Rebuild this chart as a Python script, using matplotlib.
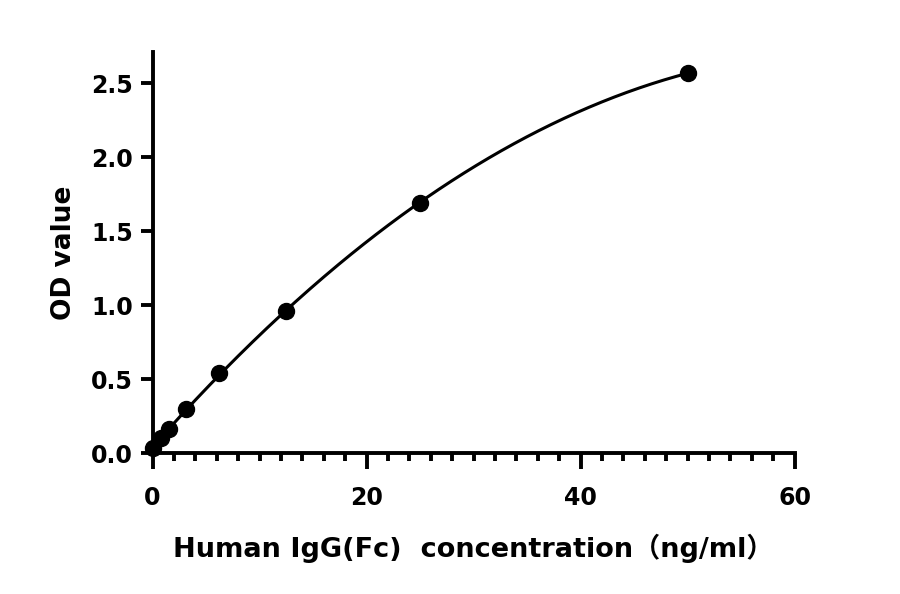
import numpy as np
import matplotlib
matplotlib.use("Agg")
import matplotlib.pyplot as plt
from matplotlib.ticker import MultipleLocator

# data
conc = [0, 0.78, 1.56, 3.125, 6.25, 12.5, 25, 50]
od = [0.035, 0.103, 0.164, 0.300, 0.541, 0.961, 1.693, 2.567]
x_ticks = [0, 20, 40, 60]
y_ticks = [0.0, 0.5, 1.0, 1.5, 2.0, 2.5]
x_label = "Human IgG(Fc)  concentration（ng/ml）"
y_label = "OD value"

fam = ["DejaVu Sans", "Noto Sans CJK SC"]
plt.rcParams['font.family'] = fam
plt.rcParams['font.weight'] = 'bold'

fig = plt.figure(figsize=(9, 5.94), dpi=100)
ax = fig.add_axes([152.5/900, 1-453.3/594, (794.5-152.5)/900, (453.3-52)/594])

# fitted curve
coef = np.polyfit(conc, od, 2)
xs = np.linspace(min(conc), max(conc), 300)
ax.plot(xs, np.polyval(coef, xs), color='black', lw=2.2, clip_on=False, zorder=3)
ax.plot(conc, od, 'o', color='black', ms=11.5, clip_on=False, zorder=4)

ax.set_xlim(0, 60)
ax.set_ylim(0, 2.71)
ax.set_xticks(x_ticks)
ax.set_yticks(y_ticks)
ax.xaxis.set_minor_locator(MultipleLocator(2))
ax.set_xticklabels([str(t) for t in x_ticks])
ax.set_yticklabels([f"{t:.1f}" for t in y_ticks])

for s in ['top', 'right']:
    ax.spines[s].set_visible(False)
for s in ['left', 'bottom']:
    ax.spines[s].set_linewidth(2.8)
    ax.spines[s].set_capstyle('projecting')

ax.tick_params(axis='x', which='major', length=11.5, width=2.8, labelsize=17, pad=12)
ax.tick_params(axis='x', which='minor', length=5.5, width=2.8)
ax.tick_params(axis='y', which='major', length=9, width=2.8, labelsize=17, pad=5)
for lab in ax.get_xticklabels() + ax.get_yticklabels():
    lab.set_fontweight('bold')

ax.set_xlabel(x_label, fontsize=19.5, fontweight='bold', labelpad=17)
ax.set_ylabel(y_label, fontsize=19, fontweight='bold', labelpad=10)

fig.savefig("out.png", dpi=100)
